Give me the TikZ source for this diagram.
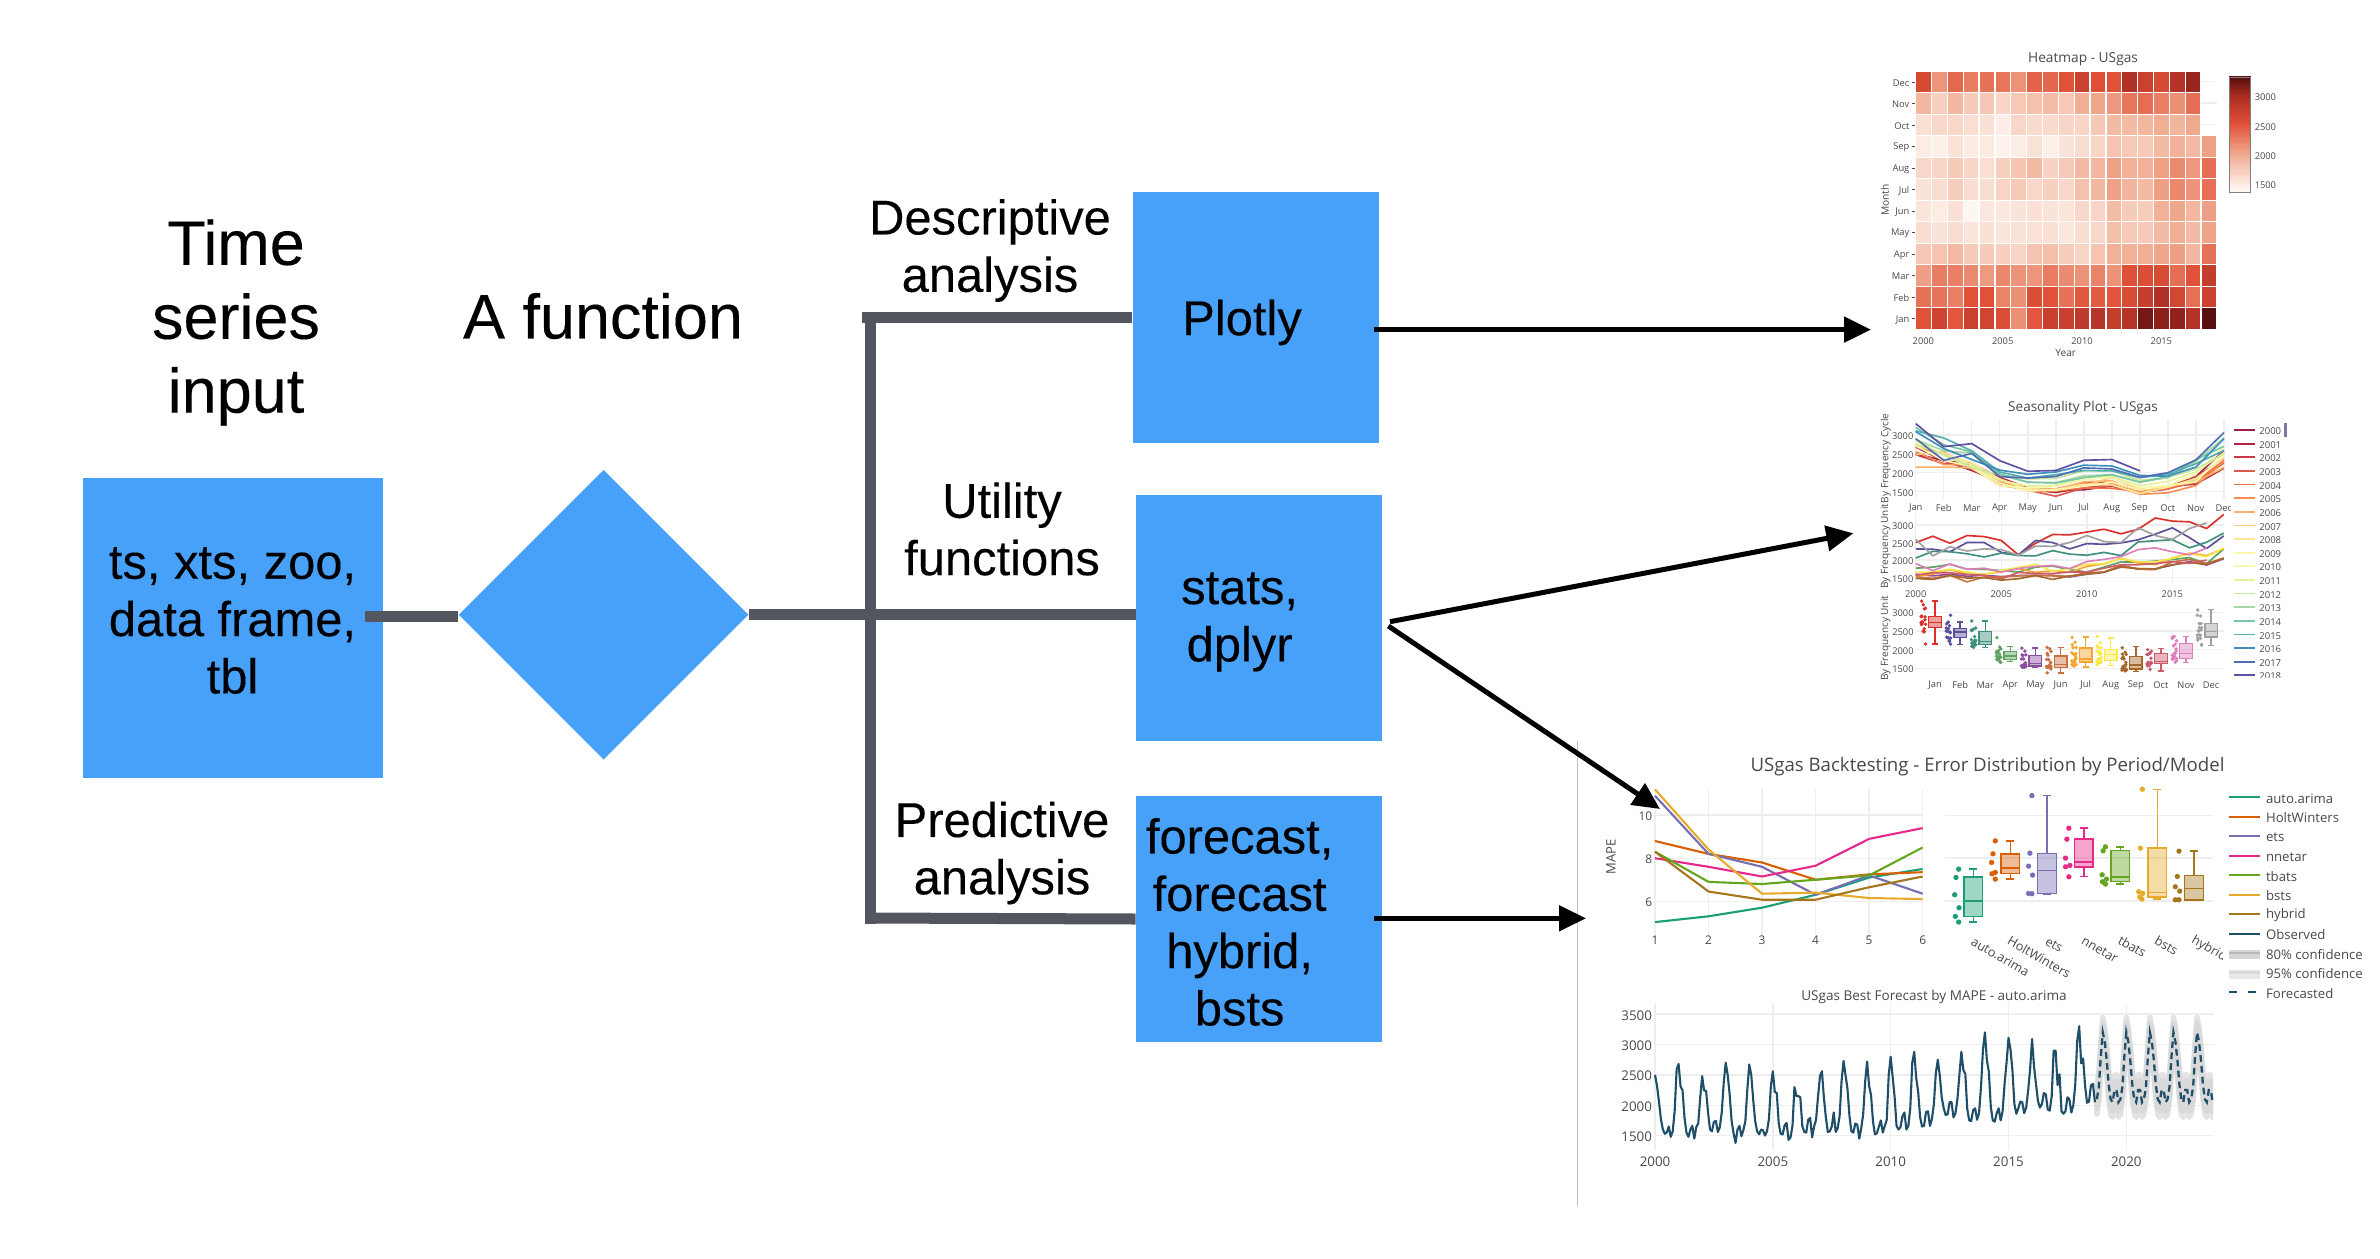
\documentclass[tikz,border=0pt]{standalone}
\usepackage{fontspec}
\setmainfont[FakeBold=0.2]{Liberation Sans}
\newfontfamily\plotFont{Open Sans}
\usetikzlibrary{shapes.geometric,arrows.meta}
\definecolor{boxBlue}{HTML}{48A1F9}
\definecolor{busGrey}{HTML}{53565E}
\definecolor{plotInk}{HTML}{484848}
\definecolor{gridGrey}{HTML}{EEEEEE}
\definecolor{obsBlue}{HTML}{1F4E68}
\definecolor{hmA}{HTML}{FEF6F1}
\definecolor{hmB}{HTML}{F0A98E}
\definecolor{hmC}{HTML}{E05238}
\definecolor{hmD}{HTML}{A82A22}
\definecolor{hmE}{HTML}{5A0F0E}
%% monthly values in hundreds, one row per month, one column per year
\def\gas{{{25.0,26.8,24.8,27.0,26.7,25.6,21.5,24.8,27.3,27.2,28.0,28.8,27.5,28.8,32.0,31.1,30.9,29.0,33.0},%
{23.2,23.1,22.4,25.0,25.0,22.2,21.5,25.6,25.0,23.2,24.7,24.5,24.9,25.8,27.4,29.2,26.4,23.3,26.9},%
{20.6,22.5,22.4,21.8,20.9,22.0,21.3,21.2,22.7,21.7,21.4,22.2,21.3,25.2,25.5,25.8,23.5,25.1,27.7},%
{17.7,18.0,18.8,17.4,17.4,17.0,16.6,18.0,18.3,17.3,16.6,18.0,19.5,19.4,19.7,20.2,20.7,19.0,23.2},%
{16.0,15.5,16.0,15.4,15.7,15.3,15.6,15.6,15.7,15.2,16.0,16.5,18.4,17.5,17.5,18.6,19.6,18.6,20.4},%
{15.3,14.8,15.7,13.8,15.2,15.2,15.5,15.7,15.5,15.4,16.4,16.6,18.5,17.4,17.3,19.5,20.2,19.0,20.6},%
{15.5,16.0,17.3,16.0,16.0,16.7,17.6,16.5,17.0,16.5,18.2,18.9,20.5,19.2,18.7,20.6,22.0,21.3,23.3},%
{16.5,16.6,17.4,16.6,15.9,17.1,17.9,18.8,16.8,17.5,18.8,19.0,20.5,19.5,19.5,20.5,21.8,21.0,23.5},%
{14.8,14.5,15.6,14.9,15.0,14.3,14.7,15.6,14.5,15.5,16.0,16.6,18.0,17.6,17.5,18.7,19.3,18.8,20.5},%
{15.7,16.4,16.4,15.9,15.7,14.7,16.5,16.2,16.2,16.6,16.6,17.7,18.7,18.7,19.0,19.6,19.1,20.0,0},%
{19.0,17.0,18.9,17.4,17.7,16.6,17.6,18.2,18.5,17.6,19.6,20.2,21.0,23.0,23.5,22.4,21.5,23.4,0},%
{25.9,21.2,23.8,22.6,23.2,23.0,21.4,24.0,23.9,25.0,27.0,25.3,25.0,29.2,27.0,25.9,29.0,30.6,0}}}
\def\fcPat{{32.0,30.5,27.5,23.5,21.0,20.5,22.5,22.5,20.5,21.0,23.0,28.0}}
\def\monthStats{0/Jan/DC2F2A/21.5/25.9/27.3/28.9/33.0,1/Feb/5B4F9A/21.4/23.3/24.7/25.6/27.4,
  2/Mar/3F8F7F/20.5/21.3/22.2/24.8/27.7,3/Apr/5FA25F/16.8/17.4/18.3/19.5/20.8,
  4/May/8B4FA0/15.2/15.6/16.2/18.5/20.4,5/Jun/C8703F/13.7/15.2/16.1/18.3/20.5,
  6/Jul/F8A52F/15.3/16.7/17.5/20.4/23.4,7/Aug/F6E84A/15.8/17.0/18.7/20.0/23.1,
  8/Sep/A6682A/14.2/14.8/15.9/18.1/20.8,9/Oct/CC5C6A/14.3/16.3/16.9/19.0/20.3,
  10/Nov/DD7FBC/16.5/17.6/19.0/21.7/23.5,11/Dec/A0A0A0/21.1/23.4/24.9/27.0/30.7}
\def\yearColors{0/2000/9E1F45,1/2001/B2263F,2/2002/CC3A46,3/2003/DA5A4C,4/2004/EC704A,5/2005/F58E50,
  6/2006/FBB163,7/2007/FDCA79,8/2008/FDE59A,9/2009/FEF6AE,10/2010/F7F8AB,11/2011/E6F29B,12/2012/C9E79E,
  13/2013/A5D8A1,14/2014/78C6A3,15/2015/55AEAF,16/2016/3D8FBB,17/2017/4F6DB3,18/2018/5E4FA2}
\newcommand{\hmShade}[1]{%
  \ifdim#1pt<20pt \pgfmathtruncatemacro\hmT{max(0,(#1-14)/6*100)}\colorlet{hmc}{hmB!\hmT!hmA}%
  \else\ifdim#1pt<25pt \pgfmathtruncatemacro\hmT{(#1-20)/5*100}\colorlet{hmc}{hmC!\hmT!hmB}%
  \else\ifdim#1pt<30pt \pgfmathtruncatemacro\hmT{(#1-25)/5*100}\colorlet{hmc}{hmD!\hmT!hmC}%
  \else \pgfmathtruncatemacro\hmT{min(100,(#1-30)/3*100)}\colorlet{hmc}{hmE!\hmT!hmD}\fi\fi\fi}

\begin{document}
\begin{tikzpicture}
[x=0.01cm,y=-0.01cm,
  boxDecorate/.style={shape=rectangle,fill=boxBlue,inner sep=0pt},
  textDecorate/.style={align=center,inner sep=0pt,font=\fontsize{13.9}{16.3}\selectfont},
  headDecorate/.style={align=center,inner sep=0pt,font=\fontsize{17.9}{21}\selectfont},
  lineDecorate/.style={-,line width=0.11cm,color=busGrey},
  arrowDecorate/.style={-{Triangle[length=0.27cm,width=0.25cm]},line width=0.05cm,color=black},
  plotText/.style={inner sep=0pt,yshift=-0.012cm,text=plotInk,font=\plotFont\fontsize{#1}{#1}\selectfont},
  gridDecorate/.style={color=gridGrey,line width=0.4pt},
  seasonLine/.style={line width=0.47pt,line join=round},
  backLine/.style={line width=0.6pt,line join=round}]
\useasboundingbox (0,0) rectangle (2380,1258);
%% blocks of the flow
\node (input) at (233,628.4) [boxDecorate,minimum width=3.00cm,minimum height=3.00cm] {};
\node (fn) at (603.6,614.8) [shape=diamond,fill=boxBlue,inner sep=0pt,aspect=1,minimum width=2.9cm,minimum height=2.9cm] {};
\node (plotly) at (1255.8,317.5) [boxDecorate,minimum width=2.457cm,minimum height=2.514cm] {};
\node (stats) at (1259.3,618) [boxDecorate,minimum width=2.457cm,minimum height=2.46cm] {};
\node (forecast) at (1259.3,919) [boxDecorate,minimum width=2.457cm,minimum height=2.457cm] {};
%% texts
\node (inputHead) at (236,322.5) [headDecorate] {Time\\series\\input};
\node (fnHead) at (603,316) [headDecorate] {A function};
\node (inputText) at (232.5,620.5) [textDecorate] {ts, xts, zoo,\\data frame,\\tbl};
\node (plotlyText) at (1242,322.5) [textDecorate] {Plotly};
\node (statsText) at (1239.6,622) [textDecorate] {stats,\\dplyr};
\node (forecastText) at (1239.6,922) [textDecorate] {forecast,\\forecast\\hybrid,\\bsts};
\node (descText) at (990,250.5) [textDecorate] {Descriptive\\analysis};
\node (utilText) at (1002,529) [textDecorate] {Utility\\functions};
\node (predText) at (1002,853) [textDecorate] {Predictive\\analysis};
%% connectors
\coordinate (inGate) at (365,616);
\coordinate (busTop) at (862,317.5);
\coordinate (busBot) at (865.5,918);
\coordinate (busUp) at (870.7,312);
\coordinate (busDown) at (870.7,923.5);
\draw[lineDecorate] (inGate) -- (inGate -| fn.west);
\draw[lineDecorate] (fn.east) -- (fn.east -| stats.west);
\draw[lineDecorate] (busUp) -- (busDown);
\draw[lineDecorate] (busTop) -- (plotly.west);
\draw[lineDecorate] (busBot) -- (forecast.west);
%% rule beside the lower charts
\coordinate (ruleTop) at (1577.3,741);
\coordinate (ruleEnd) at (1577.3,1206);
\draw[color=black!25,line width=0.3pt] (ruleTop) -- (ruleEnd);

%% heatmap
\node (hmTitle) at (2083,58) [plotText=3.9] {Heatmap - USgas};
\foreach \m/\mon/\col/\lo/\qa/\md/\qb/\hi in \monthStats
{
  \pgfmathsetmacro\rowy{328.7-21.5*\m}
  \pgfmathtruncatemacro\lastyr{\m>8 ? 17 : 18}
  \foreach \yr in {0,...,\lastyr}
  {
    \pgfmathsetmacro\v{\gas[\m][\yr]}
    \hmShade{\v}
    \fill[hmc] ({1915.7+15.85*\yr+0.6},\rowy-20.2) rectangle ({1915.7+15.85*\yr+15.2},\rowy);
  }
  \node (hmMon\m) at (1910,\rowy-10.3) [plotText=2.65,anchor=east] {\mon};
  \draw[plotInk,line width=0.2pt] (1911.7,\rowy-10.3) -- (1915,\rowy-10.3);
}
\foreach \m in {9,10,11}
{
  \draw[gridDecorate] (2201,{318-21.5*\m}) -- (2216.7,{318-21.5*\m});
}
\foreach \t in {2000,2005,2010,2015}
{
  \node (hmYear\t) at ({1923.3+15.87*(\t-2000)},340) [plotText=2.65] {\t};
}
\node (hmXname) at (2065.7,351.7) [plotText=2.9] {Year};
\node (hmYname) at (1885,199) [plotText=2.9,rotate=90] {Month};
\foreach \v in {13.6,13.8,...,33.2}
{
  \hmShade{\v}
  \fill[hmc] (2229.3,{184.3-(\v-15)*5.887}) rectangle (2250.7,{184.3-(\v-15)*5.887-1.4});
}
\coordinate (barA) at (2229.3,77.7);
\coordinate (barB) at (2250.7,192.7);
\draw[color=black!50,line width=0.25pt] (barA) rectangle (barB);
\foreach \v/\y in {3000/96,2500/125.7,2000/155,1500/184.3}
{
  \node (barTick\v) at (2254,\y) [plotText=2.65,anchor=west] {\v};
}

%% seasonality plot
\node (seasonTitle) at (2083,407) [plotText=3.85] {Seasonality Plot - USgas};
\node (seasonNameA) at (1885.7,457) [plotText=2.85,rotate=90] {By Frequency Cycle};
\node (seasonNameB) at (1885.7,545) [plotText=2.85,rotate=90] {By Frequency Unit};
\node (seasonNameC) at (1885.7,637) [plotText=2.85,rotate=90] {By Frequency Unit};
%% by cycle
\begin{scope}[shift={(1915.7,548.4)},x=0.28cm,y=0.0378cm]
  \foreach \m in {0,...,11}
  {
    \draw[gridDecorate] (\m,13) -- (\m,33.9);
  }
  \foreach \v/\t in {15/1500,20/2000,25/2500,30/3000}
  {
    \draw[gridDecorate] (0,\v) -- (11,\v);
    \node (topY\t) at (-0.06,\v) [plotText=2.65,anchor=east] {\t};
  }
  \foreach \yr/\t/\col in \yearColors
  {
    \definecolor{yearColor}{HTML}{\col}
    \pgfmathtruncatemacro\lastm{\yr==18 ? 8 : 11}
    \pgfmathsetmacro\vstart{\gas[0][\yr]}
    \draw[seasonLine,yearColor] (0,\vstart) \foreach \m [evaluate=\m as \v using {\gas[\m][\yr]}] in {1,...,\lastm} { -- (\m,\v) };
  }
\end{scope}
\begin{scope}
  \clip (1900,495) rectangle (2230,520);
  \foreach \m/\mon/\col/\lo/\qa/\md/\qb/\hi in \monthStats
  {
    \node (topX\m) at ({1915.7+28*\m},506.7) [plotText=2.65] {\mon};
  }
\end{scope}
%% by unit
\begin{scope}[shift={(1915.7,630.35)},x=0.171cm,y=0.0351cm]
  \foreach \t in {0,5,10,15}
  {
    \draw[gridDecorate] (\t,13.6) -- (\t,33.5);
    \pgfmathtruncatemacro\yrname{2000+\t}
    \node (midX\t) at (\t,{(630.35-592.7)/3.51}) [plotText=2.65] {\yrname};
  }
  \foreach \v/\t in {15/1500,20/2000,25/2500,30/3000}
  {
    \draw[gridDecorate] (0,\v) -- (18,\v);
    \node (midY\t) at (-0.1,\v) [plotText=2.65,anchor=east] {\t};
  }
  \foreach \m/\mon/\col/\lo/\qa/\md/\qb/\hi in \monthStats
  {
    \definecolor{monthColor}{HTML}{\col}
    \pgfmathtruncatemacro\lastyr{\m>8 ? 17 : 18}
    \pgfmathsetmacro\vstart{\gas[\m][0]}
    \draw[seasonLine,monthColor] (0,\vstart) \foreach \yr [evaluate=\yr as \v using {\gas[\m][\yr]}] in {1,...,\lastyr} { -- (\yr,\v) };
  }
\end{scope}
%% box plots
\begin{scope}[shift={(1935,724.25)},x=0.01cm,y=0.0373cm]
  \foreach \v/\t in {15/1500,20/2000,25/2500,30/3000}
  {
    \draw[gridDecorate] (-19.3,\v) -- (289,\v);
    \node (boxY\t) at (-20.7,\v) [plotText=2.65,anchor=east] {\t};
  }
  \foreach \m/\mon/\col/\lo/\qa/\md/\qb/\hi in \monthStats
  {
    \definecolor{monthColor}{HTML}{\col}
    \pgfmathsetmacro\cx{25.1*\m}
    \pgfmathtruncatemacro\lastyr{\m>8 ? 17 : 18}
    \foreach \yr in {0,...,\lastyr}
    {
      \pgfmathsetmacro\v{\gas[\m][\yr]}
      \fill[monthColor] ({\cx-11.7+2.2*sin(\yr*77)},\v) circle (1.9 and 0.5);
    }
    \draw[monthColor,line width=0.38pt] (\cx,\lo) -- (\cx,\qa) (\cx,\qb) -- (\cx,\hi)
      ({\cx-3},\lo) -- ({\cx+3},\lo) ({\cx-3},\hi) -- ({\cx+3},\hi);
    \draw[monthColor,fill=monthColor,fill opacity=0.45,line width=0.38pt] ({\cx-6.3},\qa) rectangle ({\cx+6.3},\qb);
    \draw[monthColor,line width=0.38pt] ({\cx-6.3},\md) -- ({\cx+6.3},\md);
    \node (boxX\m) at (\cx,{(724.25-684)/3.73}) [plotText=2.65] {\mon};
  }
\end{scope}
%% legend of years, cut off at the bottom
\begin{scope}
  \clip (2225,420) rectangle (2295,677);
  \foreach \yr/\t/\col in \yearColors
  {
    \definecolor{yearColor}{HTML}{\col}
    \coordinate (yearA\yr) at (2234,{430+13.63*\yr});
    \coordinate (yearB\yr) at (2254.7,{430+13.63*\yr});
    \draw[seasonLine,yearColor,line width=0.5pt] (yearA\yr) -- (yearB\yr);
    \node (yearName\yr) at (2258.7,{430+13.63*\yr}) [plotText=2.7,anchor=west] {\t};
  }
\end{scope}
\fill[color=black!25!blue!30!gray!80] (2284,422.7) rectangle (2287,436.7);

%% backtesting: error by period
\node (backTitle) at (1987.5,765) [plotText=5.3] {USgas Backtesting - Error Distribution by Period/Model};
\node (backName) at (1611,855.7) [plotText=3.7,rotate=90] {MAPE};
\begin{scope}[shift={(1655,1030.3)},x=0.535cm,y=0.215cm]
  \foreach \p in {0,...,5}
  {
    \draw[gridDecorate] (\p,4.3) -- (\p,11.2);
    \pgfmathtruncatemacro\pname{\p+1}
    \node (backX\p) at (\p,{(1030.3-939)/21.5}) [plotText=3.4] {\pname};
  }
  \foreach \v in {6,8,10}
  {
    \draw[gridDecorate] (0,\v) -- (5,\v);
    \node (backY\v) at (-0.04,\v) [plotText=3.4,anchor=east] {\v};
  }
  \foreach \col/\a/\b/\c/\d/\e/\f in {
    1B9E77/5.03/5.3/5.7/6.3/7.1/7.5,
    D95F02/8.8/8.2/7.8/7.0/7.25/7.35,
    7570B3/10.9/8.2/7.6/6.3/7.2/6.35,
    E7298A/8.0/7.6/7.15/7.65/8.9/9.4,
    66A61E/8.3/6.9/6.8/7.0/7.2/8.5,
    E6AB2B/11.2/8.4/6.35/6.4/6.15/6.1,
    A6761D/8.3/6.45/6.07/6.07/6.65/7.15}
  {
    \definecolor{modelColor}{HTML}{\col}
    \draw[backLine,modelColor] (0,\a) -- (1,\b) -- (2,\c) -- (3,\d) -- (4,\e) -- (5,\f);
  }
\end{scope}
%% backtesting: error by model
\begin{scope}[shift={(1950,740)},x=0.003333cm,y=-0.003333cm]
  \foreach \y in {226,355,484}
  {
    \draw[gridDecorate] (-15,\y) -- (790,\y);
  }
  \foreach \col/\cx/\lo/\qa/\md/\qb/\hi/\pts in {
    1B9E77/70/547/530/484/412/388/{26/388,18/413,14/465,27/504,16/530,26/547},
    D95F02/181/418/402/384/343/303/{136/303,129/342,125/368,136/398,126/402,136/418},
    7570B3/291/464/462/392/341/167/{246/167,240/340,236/379,248/406,236/461,246/462},
    E7298A/402/411/381/367/298/265/{357/265,351/298,347/355,360/377,347/381,357/411},
    66A61E/512/433/426/412/332/321/{467/321,460/333,457/405,470/418,458/426,467/433},
    E6AB2B/623/478/472/459/325/148/{578/148,572/325,567/456,579/461,570/472,577/478},
    A6761D/733/482/481/447/408/333/{688/334,683/410,677/441,690/454,677/480,688/480}}
  {
    \definecolor{modelColor}{HTML}{\col}
    \foreach \px/\py in \pts
    {
      \fill[modelColor] (\px,\py) circle (8 and 8);
    }
    \draw[modelColor,line width=0.4pt] (\cx,\lo) -- (\cx,\qa) (\cx,\qb) -- (\cx,\hi)
      ({\cx-12},\lo) -- ({\cx+12},\lo) ({\cx-12},\hi) -- ({\cx+12},\hi);
    \draw[modelColor,fill=modelColor,fill opacity=0.42,line width=0.4pt] ({\cx-28},\qa) rectangle ({\cx+28},\qb);
    \draw[modelColor,line width=0.4pt] ({\cx-28},\md) -- ({\cx+28},\md);
  }
  \clip (0,560) rectangle (820,720);
  \foreach \name/\x/\y/\t in {mdlA/65/598/auto.arima,mdlB/175/595/HoltWinters,mdlC/288/598/ets,mdlD/397/596/nnetar,mdlE/507/593/tbats,mdlF/617/595/bsts,mdlG/727/595/hybrid}
  {
    \node (\name) at (\x,\y) [plotText=3.6,rotate=-30,anchor=west] {\t};
  }
\end{scope}
%% legend of models
\foreach \i/\col/\t in {0/1B9E77/auto.arima,1/D95F02/HoltWinters,2/7570B3/ets,3/E7298A/nnetar,4/66A61E/tbats,5/E6AB2B/bsts,6/A6761D/hybrid,7/1F4E68/Observed}
{
  \definecolor{modelColor}{HTML}{\col}
  \coordinate (modelA\i) at (2229.3,{797.3+19.47*\i});
  \coordinate (modelB\i) at (2260,{797.3+19.47*\i});
  \draw[backLine,modelColor] (modelA\i) -- (modelB\i);
  \node (modelName\i) at (2265.3,{797.3+19.47*\i}) [plotText=3.75,anchor=west] {\t};
}
\fill[color=black!16] (2229.3,950) rectangle (2260,959);
\draw[color=black!28,line width=0.6pt] (2229.3,953) -- (2260,953);
\node (bandEighty) at (2265.3,953) [plotText=3.75,anchor=west] {80\% confidence};
\fill[color=black!9] (2229.3,970) rectangle (2260,979);
\draw[color=black!14,line width=0.6pt] (2229.3,972.5) -- (2260,972.5);
\node (bandNinety) at (2265.3,972.5) [plotText=3.75,anchor=west] {95\% confidence};
\coordinate (fcA) at (2229.3,992);
\coordinate (fcB) at (2260,992);
\draw[obsBlue,line width=0.6pt,dash pattern=on 2.3pt off 2.9pt] (fcA) -- (fcB);
\node (fcName) at (2265.3,992) [plotText=3.75,anchor=west] {Forecasted};

%% best forecast
\node (bestTitle) at (1934,996) [plotText=3.85] {USgas Best Forecast by MAPE - auto.arima};
\begin{scope}[shift={(1655,1226.7)},x=0.2355cm,y=0.0607cm]
  \foreach \t in {0,5,10,15,20}
  {
    \draw[gridDecorate] (\t,12.6) -- (\t,36.8);
    \pgfmathtruncatemacro\yrname{2000+\t}
    \node (bestX\t) at (\t,{(1226.7-1160.3)/6.07}) [plotText=3.8] {\yrname};
  }
  \foreach \v/\t in {15/1500,20/2000,25/2500,30/3000,35/3500}
  {
    \draw[gridDecorate] (0,\v) -- (23.7,\v);
    \node (bestY\t) at (-0.1,\v) [plotText=3.8,anchor=east] {\t};
  }
  %% confidence bands
  \begin{scope}
    \clip (18.6,10) rectangle (23.68,40);
    \foreach \w/\tone in {2.5/11,1.5/15}
    {
      \filldraw[color=black!\tone,line width=1.5pt,line join=round] ({225/12},{20.5+\w}) \foreach \i [evaluate=\i as \v using {\fcPat[int(mod(\i+9,12))]+\w}] in {0,...,59} { -- ({(225+\i)/12},\v) }
        \foreach \i [evaluate=\i as \v using {\fcPat[int(mod(\i+9,12))]-\w}] in {59,58,...,0} { -- ({(225+\i)/12},\v) } -- cycle;
    }
  \end{scope}
  %% observed and forecasted
  \draw[obsBlue,line width=0.6pt,line join=round] (0,25.0) \foreach \i [evaluate=\i as \v using {\gas[int(mod(\i,12))][int(\i/12)]}] in {1,...,224} { -- ({\i/12},\v) };
  \draw[obsBlue,line width=0.65pt,dash pattern=on 1.9pt off 1.2pt] ({225/12},21.0) \foreach \i [evaluate=\i as \v using {\fcPat[int(mod(\i+9,12))]}] in {1,...,59} { -- ({(225+\i)/12},\v) };
\end{scope}

%% arrows out of the blocks
\coordinate (plotlyOut) at (1374,329.6);
\coordinate (heatIn) at (1871,329.6);
\coordinate (statsUp) at (1390,621.7);
\coordinate (seasonIn) at (1853.3,533.3);
\coordinate (statsDown) at (1388.3,626);
\coordinate (backIn) at (1660,809);
\coordinate (forecastOut) at (1374,918.3);
\coordinate (forecastIn) at (1586,918.3);
\draw[arrowDecorate] (plotlyOut) -- (heatIn);
\draw[arrowDecorate] (statsUp) -- (seasonIn);
\draw[arrowDecorate] (statsDown) -- (backIn);
\draw[arrowDecorate] (forecastOut) -- (forecastIn);
\end{tikzpicture}
\end{document}
